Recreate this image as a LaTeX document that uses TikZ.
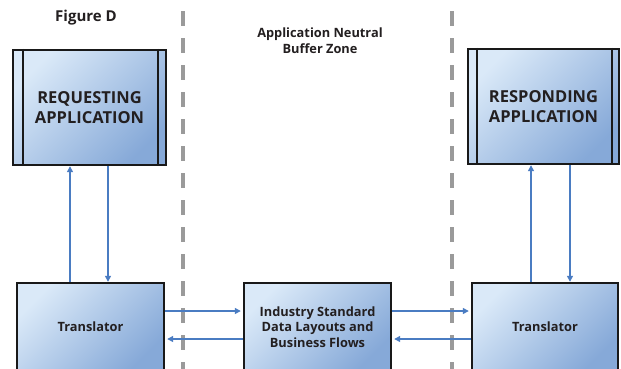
\documentclass[tikz,border=0pt]{standalone}
\usepackage{fontspec}
\setmainfont{Open Sans}
\usetikzlibrary{arrows.meta}
\definecolor{inktext}{HTML}{231F20}
\definecolor{boxlight}{HTML}{DAE9F8}
\definecolor{boxdark}{HTML}{86A9D8}
\definecolor{flowblue}{HTML}{4A7CC2}
\definecolor{zonegray}{HTML}{9A9A9A}
\tikzset{
  panel/.style={draw=black!90, line width=2.4pt,
    top color=boxlight, bottom color=boxdark, shading angle=45, inner sep=0pt,
    text=inktext, font=\bfseries, align=center},
  flow/.style={draw=flowblue, line width=1.3pt, -{Triangle[length=6pt,width=6pt]}},
  zone/.style={draw=zonegray, line width=3.2pt, dash pattern=on 15pt off 12pt},
  caption/.style={text=inktext, font=\bfseries, align=center}
}
\begin{document}
\begin{tikzpicture}[x=1pt,y=-1pt]
\useasboundingbox (0,0) rectangle (621,368);
\clip (0,0) rectangle (621,368);
\fill[white] (0,0) rectangle (621,368);

% zone boundaries
\draw[zone] (183,11) -- (183,380);
\draw[zone] (452,11) -- (452,380);

% titles
\node[caption, font=\bfseries\fontsize{15}{16}\selectfont] (fig) at (86,18) {Figure D};
\node[caption, font=\bfseries\fontsize{12.8}{16}\selectfont] (zonetitle) at (320,41)
  {Application Neutral\\Buffer Zone};

% applications
\node[panel, minimum width=153pt, minimum height=115pt,
  font=\bfseries\fontsize{16.5}{20}\selectfont] (req) at (89.5,107.5)
  {REQUESTING\\APPLICATION};
\draw[black!90, line width=2pt] ([xshift=11pt]req.north west) -- ([xshift=11pt]req.south west);
\draw[black!90, line width=2pt] ([xshift=-9pt]req.north east) -- ([xshift=-9pt]req.south east);

\node[panel, minimum width=151pt, minimum height=115pt,
  font=\bfseries\fontsize{16.5}{20}\selectfont] (resp) at (543.5,106.5)
  {RESPONDING\\APPLICATION};
\draw[black!90, line width=2pt] ([xshift=10pt]resp.north west) -- ([xshift=10pt]resp.south west);
\draw[black!90, line width=2pt] ([xshift=-8pt]resp.north east) -- ([xshift=-8pt]resp.south east);

% translators and the neutral layer
\node[panel, minimum width=147pt, minimum height=88pt,
  font=\bfseries\fontsize{12.8}{14}\selectfont] (tl) at (90.5,327) {Translator};
\node[panel, minimum width=147pt, minimum height=88pt,
  font=\bfseries\fontsize{12.8}{15.5}\selectfont] (mid) at (317.5,327)
  {Industry Standard\\Data Layouts and\\Business Flows};
\node[panel, minimum width=146pt, minimum height=88pt,
  font=\bfseries\fontsize{12.8}{14}\selectfont] (tr) at (545,327) {Translator};

% vertical exchanges
\draw[flow] (tl.north -| 70,0) -- (req.south -| 70,0);
\draw[flow] (req.south -| 108,0) -- (tl.north -| 108,0);
\draw[flow] (tr.north -| 531,0) -- (resp.south -| 531,0);
\draw[flow] (resp.south -| 570,0) -- (tr.north -| 570,0);

% horizontal exchanges
\draw[flow] (tl.east |- 0,311) -- ([xshift=-2pt]mid.west |- 0,311);
\draw[flow] (mid.west |- 0,339) -- ([xshift=2pt]tl.east |- 0,339);
\draw[flow] (mid.east |- 0,311) -- ([xshift=-2pt]tr.west |- 0,311);
\draw[flow] (tr.west |- 0,339) -- ([xshift=2pt]mid.east |- 0,339);
\end{tikzpicture}
\end{document}
